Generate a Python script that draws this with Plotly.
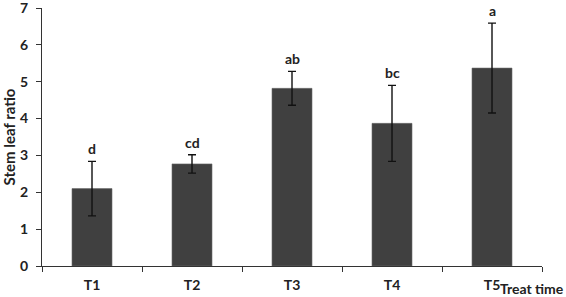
import plotly.graph_objects as go

categories = ["T1", "T2", "T3", "T4", "T5"]
values = [2.10, 2.77, 4.82, 3.87, 5.37]
errors = [0.74, 0.25, 0.46, 1.03, 1.22]
letters = ["d", "cd", "ab", "bc", "a"]
y_ticks = [0, 1, 2, 3, 4, 5, 6, 7]

FONT = "Lato"

fig = go.Figure()
fig.add_trace(go.Bar(
    x=categories, y=values,
    marker=dict(color="#404040", line=dict(color="#6a6a6a", width=0.6)),
    error_y=dict(type="data", array=errors, visible=True,
                 color="#111111", thickness=1.4, width=4),
    width=0.4,
))

for c, v, e, l in zip(categories, values, errors, letters):
    fig.add_annotation(x=c, y=v + e, text=l, showarrow=False,
                       yanchor="bottom", yshift=2,
                       font=dict(family=FONT, size=14, color="#222222", weight="bold"))

fig.add_annotation(xref="paper", yref="paper", x=0.912, y=-0.086,
                   xanchor="left", yanchor="middle",
                   text="<b>Treat time</b>", showarrow=False,
                   font=dict(family=FONT, size=14, color="#222222"))

fig.update_layout(
    width=566, height=297,
    margin=dict(l=42, r=24, t=8, b=31, autoexpand=False),
    plot_bgcolor="white", paper_bgcolor="white",
    showlegend=False,
    font=dict(family=FONT, size=14, color="#222222"),
    xaxis=dict(
        showline=True, linecolor="#333333", linewidth=1,
        ticks="outside", tickson="boundaries", ticklen=5, tickcolor="#333333",
        ticklabelstandoff=6,
        tickfont=dict(family=FONT, size=14, weight="bold"),
        range=[-0.5, 4.5], showgrid=False, automargin=False,
    ),
    yaxis=dict(
        range=[0, 7], tickvals=y_ticks, ticktext=[str(t) for t in y_ticks],
        showline=True, linecolor="#333333", linewidth=1,
        ticks="outside", ticklen=5, tickcolor="#333333",
        ticklabelstandoff=5, ticklabeloverflow="allow",
        tickfont=dict(family=FONT, size=14, weight="bold"),
        showgrid=False, zeroline=False, automargin=False,
        title=dict(text="<b>Stem leaf ratio</b>", standoff=3,
                   font=dict(family=FONT, size=15)),
    ),
)

fig.write_html("out.html", config={"displayModeBar": False},
               post_script="document.body.style.margin='0';")
